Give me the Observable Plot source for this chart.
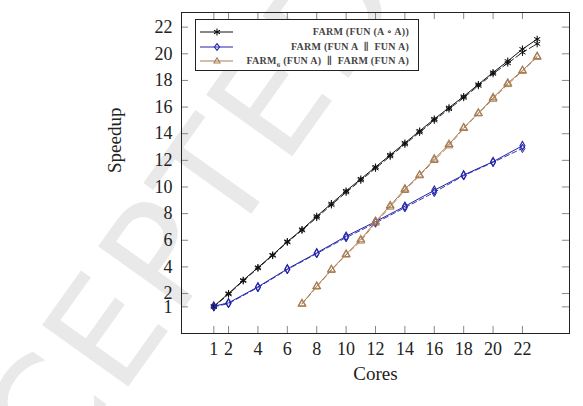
<!DOCTYPE html>
<html><head><meta charset="utf-8">
<script src="https://cdn.jsdelivr.net/npm/d3@7"></script>
<script src="https://cdn.jsdelivr.net/npm/@observablehq/plot@0.6"></script>
<style>
body{margin:0;background:#fff;}
#wrap{position:relative;width:583px;height:406px;overflow:hidden;}
#wm{position:absolute;left:192px;top:210px;font-family:"DejaVu Sans",sans-serif;font-size:145px;color:#e9e9e9;white-space:nowrap;transform:translate(-50%,-50%) rotate(-54.5deg);letter-spacing:5px;line-height:1;}
#chart{position:absolute;left:0;top:0;}
#legend{position:absolute;left:195px;top:19px;width:222px;height:50px;border:1px solid #222;background:#fff;font-family:"Liberation Serif","Times New Roman","DejaVu Serif",serif;font-weight:bold;font-size:10px;letter-spacing:0.25px;color:#444;}
.row{position:absolute;left:0;width:100%;height:14px;}
.row svg{position:absolute;left:4px;top:0;}
.row span{position:absolute;right:9px;top:1px;white-space:pre;}
.row sub{font-size:7px;}
</style></head>
<body><div id="wrap"><div id="wm">CEPTED</div><div id="chart"></div><div id="legend"></div></div>
<script>
const coresStar = [1,2,3,4,5,6,7,8,9,10,11,12,13,14,15,16,17,18,19,20,21,22,23];
const starSolid = [1.05,2.0,3.0,3.95,4.9,5.9,6.8,7.8,8.75,9.7,10.6,11.5,12.4,13.3,14.2,15.1,15.95,16.8,17.7,18.6,19.45,20.35,21.1];
const starDashed = [1.0,1.95,2.95,3.9,4.85,5.85,6.75,7.7,8.65,9.6,10.5,11.4,12.3,13.2,14.1,15.0,15.85,16.7,17.6,18.5,19.3,20.1,20.75];
const coresBlue = [1,2,4,6,8,10,12,14,16,18,20,22];
const blueSolid = [1.05,1.3,2.5,3.85,5.05,6.3,7.4,8.55,9.75,10.9,11.9,13.1];
const blueDashed = [1.0,1.25,2.45,3.8,5.0,6.2,7.3,8.45,9.6,10.85,11.85,12.9];
const coresBrown = [7,8,9,10,11,12,13,14,15,16,17,18,19,20,21,22,23];
const brownSolid = [1.25,2.55,3.8,4.95,6.05,7.4,8.6,9.85,10.9,12.1,13.2,14.45,15.55,16.7,17.8,18.75,19.8];
const brownDashed = [1.2,2.5,3.75,4.9,5.95,7.3,8.5,9.75,10.85,12.0,13.1,14.4,15.5,16.6,17.7,18.7,19.75];
const xTicks = [1,2,4,6,8,10,12,14,16,18,20,22];
const yTicks = [1,2,4,6,8,10,12,14,16,18,20,22];
const seriesNames = ["FARM (FUN (A \u2218 A))","FARM (FUN A  \u2225  FUN A)","FARM<sub>6</sub> (FUN A)  \u2225  FARM (FUN A)"];

const BLACK="#111", BLUE="#2222aa", BROWN="#a87c52";
const pts = (xs, ys) => xs.map((x,i)=>({x, y: ys[i]}));
const series = [
  {solid: pts(coresStar, starSolid), dashed: pts(coresStar, starDashed), color: BLACK, symbol: "asterisk", r: 3.3},
  {solid: pts(coresBlue, blueSolid), dashed: pts(coresBlue, blueDashed), color: BLUE, symbol: "diamond", r: 2.6},
  {solid: pts(coresBrown, brownSolid), dashed: pts(coresBrown, brownDashed), color: BROWN, symbol: "triangle", r: 2.8}
];
const yLo = -1, yHi = 23.1, tickLenY = 0.53, tickLenX = 0.48;
const marks = [
  Plot.ruleX(xTicks, {x: d=>d, y1: yLo, y2: yLo + tickLenY, stroke: "#888"}),
  Plot.ruleX(xTicks, {x: d=>d, y1: yHi, y2: yHi - tickLenY, stroke: "#888"}),
  Plot.ruleY(yTicks, {y: d=>d, x1: -1.2, x2: -1.2 + tickLenX, stroke: "#888"}),
  Plot.ruleY(yTicks, {y: d=>d, x1: 25.2, x2: 25.2 - tickLenX, stroke: "#888"}),
  Plot.axisX(xTicks, {tickSize: 0, tickPadding: 9, fontSize: 18, label: null, fill: "#222"}),
  Plot.axisY(yTicks, {tickSize: 0, tickPadding: 9, fontSize: 18, label: null, fill: "#222"}),
  Plot.text(["Cores"], {frameAnchor: "bottom", dy: 46, fontSize: 19, fill: "#222"}),
  Plot.text(["Speedup"], {frameAnchor: "left", dx: -67, rotate: -90, fontSize: 19, fill: "#222"}),
];
for (const s of series) {
  marks.push(Plot.line(s.dashed, {x: "x", y: "y", stroke: s.color, strokeWidth: 0.9, strokeDasharray: "5,3"}));
  marks.push(Plot.dot(s.dashed, {x: "x", y: "y", stroke: s.color, symbol: s.symbol, r: s.r, strokeWidth: 1, fill: "none"}));
  marks.push(Plot.line(s.solid, {x: "x", y: "y", stroke: s.color, strokeWidth: 1}));
  marks.push(Plot.dot(s.solid, {x: "x", y: "y", stroke: s.color, symbol: s.symbol, r: s.r, strokeWidth: 1.1, fill: "none"}));
}
marks.push(Plot.frame({stroke: "#222"}));
const chart = Plot.plot({
  width: 583, height: 406,
  marginLeft: 181, marginRight: 14, marginTop: 12, marginBottom: 73,
  style: {fontFamily: "'Liberation Serif', 'Times New Roman', 'DejaVu Serif', serif", background: "transparent"},
  x: {domain: [-1.2, 25.2]},
  y: {domain: [yLo, yHi]},
  marks
});
document.getElementById("chart").appendChild(chart);

const legend = document.getElementById("legend");
const symPaths = {
  asterisk: "M0,-3.5V3.5M-3,-1.8L3,1.8M-3,1.8L3,-1.8",
  diamond: "M0,-3.3L2.5,0L0,3.3L-2.5,0Z",
  triangle: "M0,-3.2L3,2L-3,2Z"
};
series.forEach((s, i) => {
  const row = document.createElement("div");
  row.className = "row";
  row.style.top = (5 + i*14.5) + "px";
  row.innerHTML = `<svg width="36" height="14"><line x1="0" y1="7" x2="33" y2="7" stroke="${s.color}" stroke-width="1"/><path transform="translate(17,7)" d="${symPaths[s.symbol]}" fill="none" stroke="${s.color}" stroke-width="1.1"/></svg><span>${seriesNames[i]}</span>`;
  legend.appendChild(row);
});
</script></body></html>
